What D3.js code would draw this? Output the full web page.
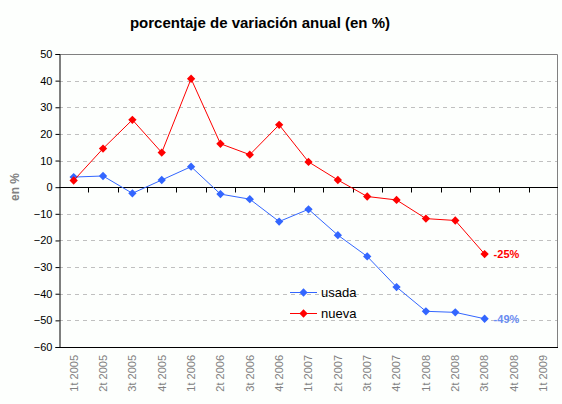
<!DOCTYPE html>
<html>
<head>
<meta charset="utf-8">
<script src="https://cdn.jsdelivr.net/npm/d3@7"></script>
<style>
  body { margin: 0; background: #fdfffd; }
  text { font-family: "Liberation Sans", Arial, sans-serif; }
</style>
</head>
<body>
<div class="chart"></div>
<script>
// quarters on the x axis
var quarters = ["1t 2005", "2t 2005", "3t 2005", "4t 2005", "1t 2006", "2t 2006", "3t 2006", "4t 2006",
    "1t 2007", "2t 2007", "3t 2007", "4t 2007", "1t 2008", "2t 2008", "3t 2008", "4t 2008", "1t 2009"];

// series values (% change year over year)
var usada = [3.8, 4.2, -2.3, 2.7, 7.7, -2.6, -4.5, -12.9, -8.3, -18.0, -26.0, -37.5, -46.6, -47.0, -49.4];
var nueva = [2.5, 14.5, 25.3, 13.0, 40.7, 16.3, 12.2, 23.4, 9.5, 2.7, -3.5, -4.8, -11.8, -12.5, -25.1];

var yTicks = [50, 40, 30, 20, 10, 0, -10, -20, -30, -40, -50, -60];

var svgWidth = 562;
var svgHeight = 404;

var margin = { top: 54, right: 4, bottom: 57, left: 59 };
var width = svgWidth - margin.left - margin.right;
var height = svgHeight - margin.top - margin.bottom;

var svg = d3.select(".chart")
    .append("svg")
    .attr("width", svgWidth)
    .attr("height", svgHeight);

var chartGroup = svg.append("g")
    .attr("transform", `translate(${margin.left}, ${margin.top})`);

var xScale = d3.scaleBand()
    .domain(quarters)
    .range([0, width])
    .padding(0);

var yScale = d3.scaleLinear()
    .domain([-60, 50])
    .range([height, 0]);

var cx = (d, i) => xScale(quarters[i]) + xScale.bandwidth() / 2;

// title
svg.append("text")
    .attr("x", 260)
    .attr("y", 28)
    .attr("text-anchor", "middle")
    .style("font-size", "15px")
    .style("font-weight", "bold")
    .text("porcentaje de variación anual (en %)");

// dashed grid lines
chartGroup.selectAll(".grid")
    .data(yTicks.filter(t => t != 50 && t != -60 && t != 0))
    .enter()
    .append("line")
    .attr("x1", 0)
    .attr("x2", width)
    .attr("y1", d => Math.round(yScale(d)) + 0.5)
    .attr("y2", d => Math.round(yScale(d)) + 0.5)
    .attr("stroke", "#c0c0c0")
    .attr("stroke-dasharray", "4,4");

// frame: top and right in grey, bottom black
chartGroup.append("path")
    .attr("d", `M0.5,0.5H${width - 0.5}V${height}`)
    .attr("fill", "none")
    .attr("stroke", "#808080");
chartGroup.append("line")
    .attr("x1", 0).attr("x2", width)
    .attr("y1", height + 0.5).attr("y2", height + 0.5)
    .attr("stroke", "#000");

// left axis
var leftAxis = d3.axisLeft(yScale)
    .tickValues(yTicks)
    .tickSize(4)
    .tickPadding(3);
var yAxisG = chartGroup.append("g")
    .attr("transform", "translate(0.5,0)")
    .call(leftAxis);
yAxisG.select(".domain").attr("stroke", "#000");
yAxisG.selectAll("text")
    .style("font-size", "11px")
    .attr("fill", "#000")
    .style("font-family", "'Liberation Sans', Arial, sans-serif");

// zero line with ticks at the quarter boundaries
var y0 = Math.round(yScale(0)) + 0.5;
chartGroup.append("line")
    .attr("x1", 0).attr("x2", width)
    .attr("y1", y0).attr("y2", y0)
    .attr("stroke", "#000");
chartGroup.selectAll(".qtick")
    .data(quarters.slice(1))
    .enter()
    .append("line")
    .attr("x1", d => Math.round(xScale(d)) + 0.5)
    .attr("x2", d => Math.round(xScale(d)) + 0.5)
    .attr("y1", y0)
    .attr("y2", y0 + 5)
    .attr("stroke", "#000");

// rotated quarter labels under the plot
chartGroup.selectAll(".qlabel")
    .data(quarters)
    .enter()
    .append("text")
    .attr("transform", d => `translate(${xScale(d) + xScale.bandwidth() / 2}, ${height + 8}) rotate(-90)`)
    .attr("text-anchor", "end")
    .attr("dy", "0.35em")
    .attr("fill", "#808080")
    .style("font-size", "11px")
    .text(d => d);

// y axis title
svg.append("text")
    .attr("transform", "translate(15, 187) rotate(-90)")
    .attr("text-anchor", "middle")
    .attr("dy", "0.35em")
    .attr("fill", "#808080")
    .style("font-size", "12px")
    .style("font-weight", "bold")
    .text("en %");

var line = d3.line()
    .x(cx)
    .y(d => yScale(d));

var diamond = d3.symbol().type(d3.symbolDiamond2).size(44);

var series = [
    { name: "usada", values: usada, color: "#3366ff" },
    { name: "nueva", values: nueva, color: "#ff0000" }
];

series.forEach(function(s) {
    chartGroup.append("path")
        .datum(s.values)
        .attr("d", line)
        .attr("fill", "none")
        .attr("stroke", s.color)
        .attr("stroke-width", 1);

    chartGroup.selectAll(".pt-" + s.name)
        .data(s.values)
        .enter()
        .append("path")
        .attr("d", diamond)
        .attr("transform", (d, i) => `translate(${cx(d, i)}, ${yScale(d)})`)
        .attr("fill", s.color);
});

// end labels
var lastN = nueva.length - 1;
chartGroup.append("text")
    .attr("x", cx(null, lastN) + 9)
    .attr("y", yScale(nueva[lastN]))
    .attr("dy", "0.35em")
    .attr("fill", "#ff0000")
    .style("font-size", "11px")
    .style("font-weight", "bold")
    .text("-25%");

var lastU = usada.length - 1;
chartGroup.append("text")
    .attr("x", cx(null, lastU) + 9)
    .attr("y", yScale(usada[lastU]))
    .attr("dy", "0.35em")
    .attr("fill", "#6a8cf0")
    .style("font-size", "11px")
    .style("font-weight", "bold")
    .text("-49%");

// legend
var legend = svg.append("g")
    .attr("transform", "translate(290, 292)");

series.forEach(function(s, i) {
    var g = legend.append("g")
        .attr("transform", `translate(0, ${i * 21})`);
    g.append("line")
        .attr("x1", 0).attr("x2", 27)
        .attr("y1", 0.5).attr("y2", 0.5)
        .attr("stroke", s.color);
    g.append("path")
        .attr("d", diamond)
        .attr("transform", "translate(13.5, 0.5)")
        .attr("fill", s.color);
    g.append("text")
        .attr("x", 31)
        .attr("y", 0)
        .attr("dy", "0.35em")
        .style("font-size", "13px")
        .text(s.name);
});
</script>
</body>
</html>
